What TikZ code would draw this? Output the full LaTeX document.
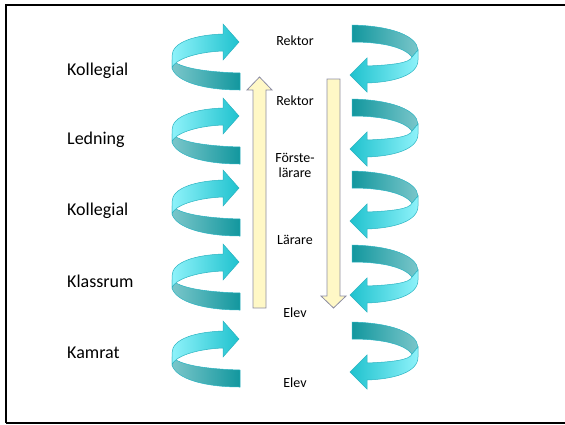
\documentclass[tikz,border=0pt]{standalone}
\usepackage{fontspec}
\setmainfont{Carlito}

\definecolor{bandlight}{HTML}{8EF2FA}
\definecolor{bandcyan}{HTML}{1FC2CE}
\definecolor{banddark}{HTML}{12979E}
\definecolor{bandgrey}{HTML}{7AC6CA}
\definecolor{bandedge}{HTML}{2BB3C1}
\definecolor{ylwfill}{HTML}{FFF8C6}
\definecolor{ylwedge}{HTML}{8D8DA3}

\tikzset{
  lab/.style={anchor=west,inner sep=0pt,font=\fontsize{18}{20}\selectfont},
  mid/.style={inner sep=0pt,align=center,font=\fontsize{14}{15}\selectfont},
  leftfront/.style={draw=bandedge,line width=0.5pt,left color=bandlight,right color=bandcyan},
  leftback/.style={draw=bandedge,line width=0.5pt,left color=bandgrey,right color=banddark},
  rightfront/.style={draw=bandedge,line width=0.5pt,left color=bandcyan,right color=bandlight},
  rightback/.style={draw=bandedge,line width=0.5pt,left color=banddark,right color=bandgrey},
  yarrow/.style={draw=ylwedge,fill=ylwfill,line width=0.8pt}
}

\begin{document}
\begin{tikzpicture}[x=1pt,y=-1pt]
\useasboundingbox (0,0) rectangle (565,424);
\clip (0,0) rectangle (565,424);
\draw[line width=2pt] (575,5) -- (6,5) -- (6,423);
\draw[line width=1.5pt] (6,423) -- (575,423);

% ribbon arrows, left and right
\foreach \d in {0,74,146,220,297}{
\begin{scope}[yshift=-\d pt]
\draw[leftback] (240,73) .. controls (205,72) and (180,68) .. (172,60) -- (172,68)
  .. controls (176,82) and (205,90) .. (240,90) -- cycle;
\draw[leftfront] (223,34) .. controls (195,35) and (172,42) .. (172,56) -- (172,68)
  .. controls (174,60) and (195,52) .. (223,51) -- (223,60) -- (239,42) -- (223,24) -- cycle;
\draw[rightback] (352,25) .. controls (392,26) and (417,36) .. (418,50) -- (412,57)
  .. controls (405,48) and (385,42) .. (352,42) -- cycle;
\draw[rightfront] (418,50) -- (418,60) .. controls (418,75) and (395,82) .. (367,83)
  -- (367,92) -- (350,75) -- (367,58) -- (367,66) .. controls (392,65) and (410,63) .. (412,57) -- cycle;
\end{scope}
}

% block arrows
\draw[yarrow] (253,308) -- (253,90) -- (247,90) -- (259.5,77) -- (272,90) -- (266,90) -- (266,308) -- cycle;
\draw[yarrow] (327,79) -- (340,79) -- (340,296) -- (346,296) -- (333.5,308) -- (321,296) -- (327,296) -- cycle;

\node[lab] (koll1) at (67,71) {Kollegial};
\node[lab] (ledn) at (67,140) {Ledning};
\node[lab] (koll2) at (67,211) {Kollegial};
\node[lab] (klass) at (67,281) {Klassrum};
\node[lab] (kamr) at (67,353) {Kamrat};

\node[mid] (rektor1) at (295,41) {Rektor};
\node[mid] (rektor2) at (295,101) {Rektor};
\node[mid] (forste) at (295,165) {Förste-\\lärare};
\node[mid] (larare) at (295,240) {Lärare};
\node[mid] (elev1) at (295,313) {Elev};
\node[mid] (elev2) at (295,383) {Elev};
\end{tikzpicture}
\end{document}
